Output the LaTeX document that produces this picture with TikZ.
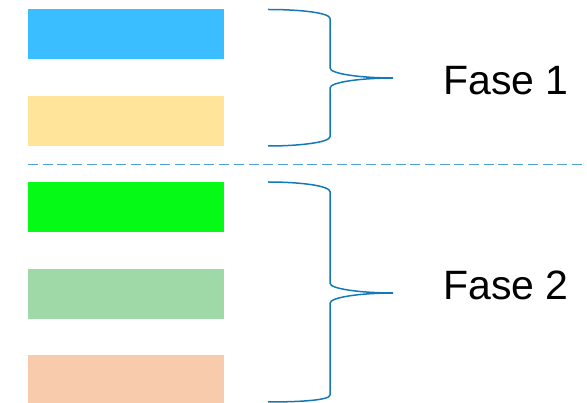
\documentclass[tikz,border=0pt]{standalone}
\usepackage{fontspec}
\setmainfont{Liberation Sans}
\begin{document}
\begin{tikzpicture}[x=1pt,y=-1pt,
  bar/.style={minimum width=196pt,minimum height=49.5pt,inner sep=0pt,anchor=north west},
  brace/.style={draw=braceblue,line width=1.5pt},
  phase/.style={anchor=base west,inner sep=0pt,font=\fontsize{41}{41}\selectfont}]
\definecolor{c1}{HTML}{3BBEFF}
\definecolor{c2}{HTML}{FFE499}
\definecolor{c3}{HTML}{05FA15}
\definecolor{c4}{HTML}{A0D9A8}
\definecolor{c5}{HTML}{F8CBAD}
\definecolor{braceblue}{HTML}{1479B8}
\definecolor{dashblue}{HTML}{4FA3D1}
\useasboundingbox (0,0) rectangle (587,403);
\node[bar,fill=c1] (r1) at (28,9) {};
\node[bar,fill=c2] (r2) at (28,96) {};
\node[bar,fill=c3] (r3) at (28,182) {};
\node[bar,fill=c4] (r4) at (28,269) {};
\node[bar,fill=c5] (r5) at (28,355) {};
\coordinate (dl) at (28,164.5);
\coordinate (dr) at (587,164.5);
\draw[dashblue,line width=1.6pt,dash pattern=on 10pt off 4.7pt] (dl) -- (dr);
% brace 1
\coordinate (b1t) at (268,9.5);
\coordinate (b1tip) at (393,78);
\coordinate (b1b) at (268,146);
\draw[brace] (b1t) .. controls (302,9.5) and (330,13) .. (330,18.5)
  -- (330,68) .. controls (330,74) and (362,78) .. (b1tip)
  .. controls (362,78) and (330,82) .. (330,88)
  -- (330,136.7) .. controls (330,142) and (302,146) .. (b1b);
% brace 2
\coordinate (b2t) at (268,182);
\coordinate (b2tip) at (393,293);
\coordinate (b2b) at (268,402);
\draw[brace] (b2t) .. controls (302,182) and (330,186) .. (330,191.7)
  -- (330,283.3) .. controls (330,289) and (362,293) .. (b2tip)
  .. controls (362,293) and (330,297) .. (330,303.3)
  -- (330,395) .. controls (330,400) and (302,402) .. (b2b);
\node[phase] (f1) at (443,95) {Fase 1};
\node[phase] (f2) at (443,299.5) {Fase 2};
\end{tikzpicture}
\end{document}
